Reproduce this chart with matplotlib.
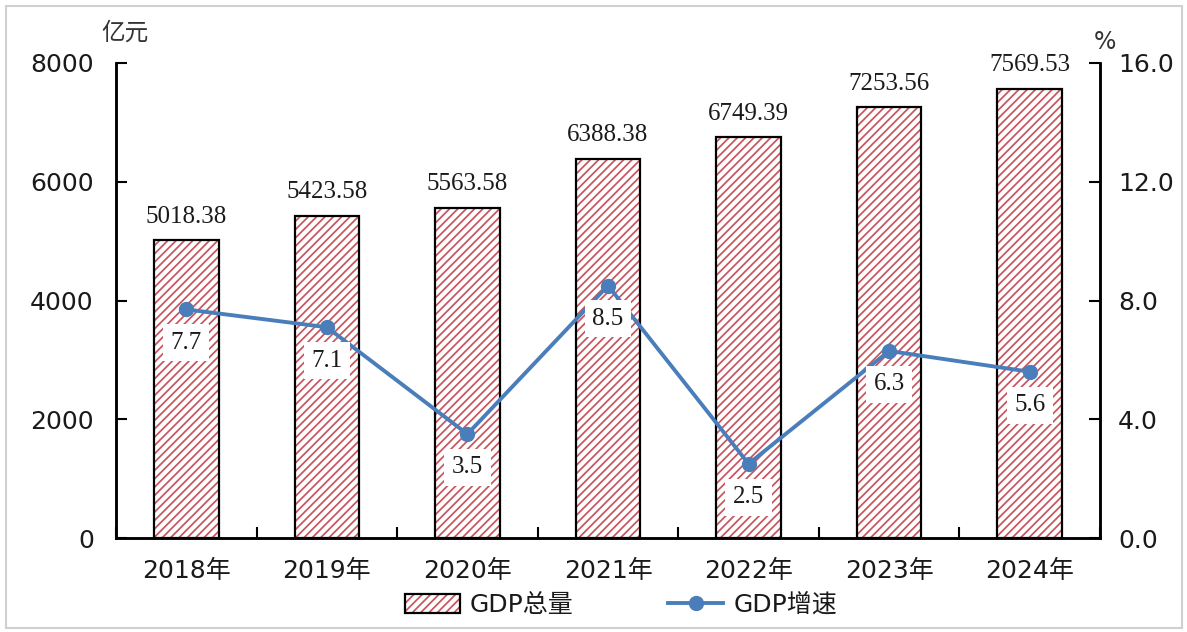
import matplotlib
matplotlib.use("Agg")
import matplotlib.pyplot as plt
from matplotlib.patches import Rectangle
from matplotlib.lines import Line2D
from matplotlib.legend_handler import HandlerTuple
import numpy as np

categories = ["2018年", "2019年", "2020年", "2021年", "2022年", "2023年", "2024年"]
gdp_total = [5018.38, 5423.58, 5563.58, 6388.38, 6749.39, 7253.56, 7569.53]
gdp_growth = [7.7, 7.1, 3.5, 8.5, 2.5, 6.3, 5.6]
left_ticks = [0, 2000, 4000, 6000, 8000]
right_ticks = [0.0, 4.0, 8.0, 12.0, 16.0]

plt.rcParams['font.family'] = ['DejaVu Sans', 'Noto Sans CJK SC']
plt.rcParams['hatch.linewidth'] = 1.25
SERIF = ['Liberation Serif', 'DejaVu Serif']
RED = '#C8545E'
BLUE = '#4A7EBB'
TXT = '#1a1a1a'
HATCH = '////'

fig = plt.figure(figsize=(11.87, 6.32), dpi=100)
ax = fig.add_axes([116/1187, 1-538/632, (1100-116)/1187, (538-63)/632])
ax2 = ax.twinx()

x = np.arange(len(categories))
w = 0.46
ax.bar(x, gdp_total, width=w, color='white', edgecolor=RED, hatch=HATCH, linewidth=0, zorder=2)
ax.bar(x, gdp_total, width=w, fill=False, edgecolor='black', linewidth=1.6, zorder=3)
for xi, v in zip(x, gdp_total):
    ax.annotate(f"{v:.2f}", (xi, v), xytext=(0, 9), textcoords='offset points',
                ha='center', va='bottom', fontsize=18, family=SERIF, color=TXT)

ax.set_xlim(-0.5, len(categories) - 0.5)
ax.set_ylim(0, 8000)
ax.set_yticks(left_ticks)
ax.set_yticklabels([str(t) for t in left_ticks])
ax.set_xticks(x)
ax.set_xticklabels(categories)
ax.set_xticks(np.arange(-0.5, len(categories)), minor=True)
ax.tick_params(axis='x', which='major', length=0, labelsize=18, pad=15, labelcolor=TXT)
ax.tick_params(axis='x', which='minor', direction='in', length=8, width=1.5)
ax.tick_params(axis='y', direction='in', length=8, width=1.5, labelsize=18, pad=16, labelcolor=TXT)
for s in ['left', 'bottom', 'right', 'top']:
    ax.spines[s].set_linewidth(1.8)
ax.spines['top'].set_visible(False)

ax2.plot(x, gdp_growth, color=BLUE, linewidth=2.8, marker='o', markersize=10, zorder=5)
for xi, v in zip(x, gdp_growth):
    ax2.annotate(f"{v:.1f}", (xi, v), xytext=(0, -24), textcoords='offset points',
                 ha='center', va='center', fontsize=18, family=SERIF, color=TXT,
                 bbox=dict(boxstyle='square,pad=0.3', fc='white', ec='none'), zorder=6)
ax2.set_ylim(0, 16)
ax2.set_yticks(right_ticks)
ax2.set_yticklabels([f"{t:.1f}" for t in right_ticks])
ax2.tick_params(axis='y', direction='in', length=8, width=1.5, labelsize=18, pad=13, labelcolor=TXT)
for s in ['left', 'bottom', 'right', 'top']:
    ax2.spines[s].set_linewidth(1.8)
ax2.spines['top'].set_visible(False)

fig.text(125/1187, 1-33/632, "亿元", fontsize=17, ha='center', va='center', family=['Noto Sans CJK SC'], color='#333333')
fig.text(1105/1187, 1-42/632, "%", fontsize=17, ha='center', va='center', color='#333333')

h_bar = (Rectangle((0, 0), 1, 1, facecolor='white', edgecolor=RED, hatch=HATCH, linewidth=0),
         Rectangle((0, 0), 1, 1, fill=False, edgecolor='black', linewidth=1.6))
h_line = Line2D([0], [0], color=BLUE, linewidth=2.8, marker='o', markersize=10)
leg = fig.legend([h_bar, h_line], ["GDP总量", "GDP增速"], loc='center', bbox_to_anchor=(0.523, 1-605/632),
                 ncol=2, frameon=False, fontsize=18, columnspacing=3.8, handlelength=2.2,
                 handleheight=0.8, handletextpad=0.4,
                 handler_map={tuple: HandlerTuple(ndivide=1, pad=0)})
for t in leg.get_texts():
    t.set_color(TXT)

fig.patches.append(Rectangle((6/1187, 4/632), 1176/1187, 622/632, transform=fig.transFigure,
                             fill=False, edgecolor='#D0D0D0', linewidth=1.5))

fig.savefig("out.png", dpi=100)
